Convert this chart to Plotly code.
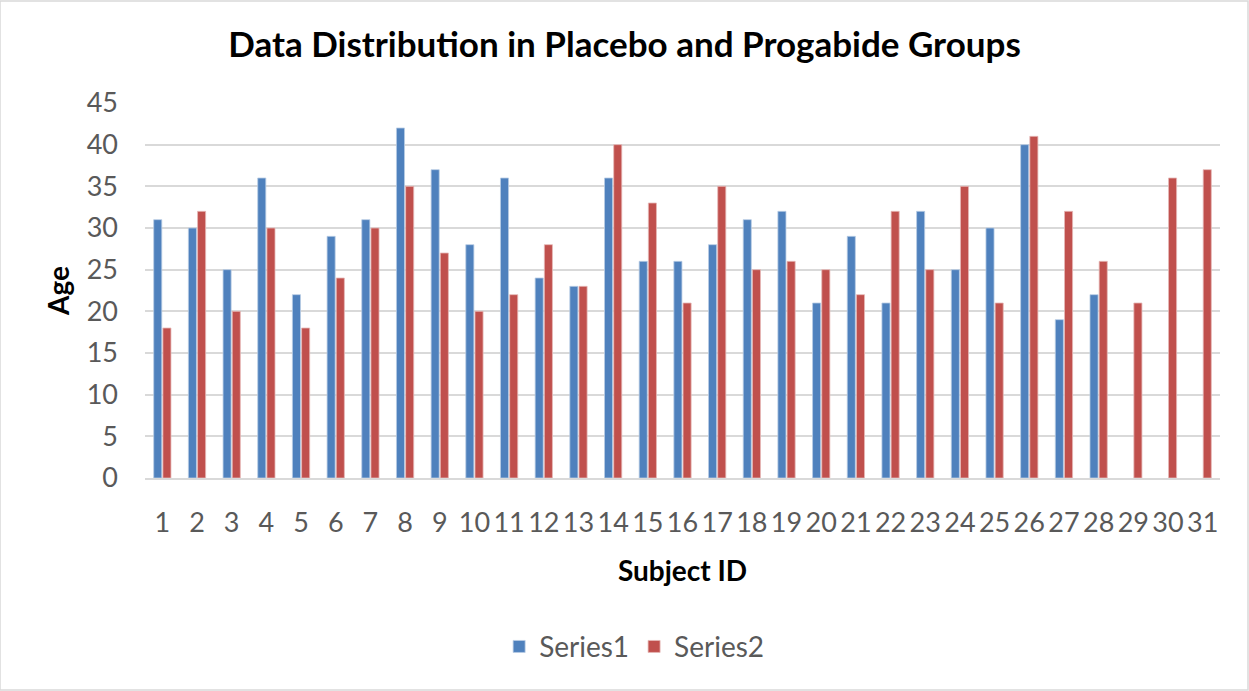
import plotly.graph_objects as go

subject_ids = [str(i) for i in range(1, 32)]
series1 = [31, 30, 25, 36, 22, 29, 31, 42, 37, 28, 36, 24, 23, 36, 26, 26, 28, 31, 32, 21,
           29, 21, 32, 25, 30, 40, 19, 22, None, None, None]
series2 = [18, 32, 20, 30, 18, 24, 30, 35, 27, 20, 22, 28, 23, 40, 33, 21, 35, 25, 26, 25,
           22, 32, 25, 35, 21, 41, 32, 26, 21, 36, 37]
y_ticks = [0, 5, 10, 15, 20, 25, 30, 35, 40, 45]

FONT = "Lato, 'Open Sans', sans-serif"

fig = go.Figure()
fig.add_trace(go.Bar(x=subject_ids, y=series1, name="Series1",
                     marker=dict(color="#4F81BD", line=dict(color="#B9CDE5", width=0.8))))
fig.add_trace(go.Bar(x=subject_ids, y=series2, name="Series2",
                     marker=dict(color="#C0504D", line=dict(color="#E6B9B8", width=0.8))))

fig.update_layout(
    width=1249, height=691,
    paper_bgcolor="white", plot_bgcolor="white",
    margin=dict(l=145, r=29, t=103, b=213),
    barmode="group", bargap=0.47, bargroupgap=0.12,
    title=dict(text="<b>Data Distribution in Placebo and Progabide Groups</b>",
               x=0.5, xanchor="center", y=0.935, yanchor="middle",
               font=dict(family=FONT, size=35, color="black")),
    font=dict(family=FONT, color="#595959"),
    legend=dict(orientation="h", x=0.455, xanchor="center", y=-0.45, yanchor="middle",
                font=dict(size=28, color="#595959"), itemwidth=30, traceorder="normal"),
    xaxis=dict(type="category", tickfont=dict(size=27, color="#595959"),
               showgrid=False, showline=True, linecolor="#D9D9D9", linewidth=1.5,
               ticks="", ticklabelstandoff=20,
               title=dict(text="<b>Subject ID</b>", standoff=24,
                          font=dict(size=28, color="black"))),
    yaxis=dict(range=[0, 45], tickvals=y_ticks, tickfont=dict(size=27, color="#595959"),
               showgrid=True, gridcolor="#D9D9D9", gridwidth=1.5, zeroline=False,
               ticks="", ticklen=0, ticklabelstandoff=26,
               title=dict(text="<b>Age</b>", standoff=8, font=dict(size=28, color="black"))),
)

fig.add_shape(type="rect", xref="paper", yref="paper", x0=-145/1075, x1=1+28/1075,
              y0=-212/375, y1=1+102/375, line=dict(color="#D9D9D9", width=1.5),
              fillcolor="rgba(0,0,0,0)", layer="below")

fig.write_html("out.html")
